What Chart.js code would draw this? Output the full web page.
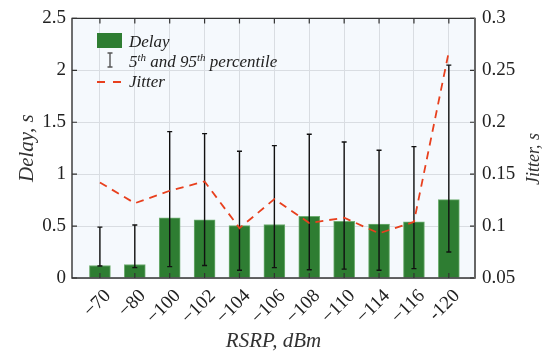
<!DOCTYPE html>
<html>
<head>
<meta charset="utf-8">
<script src="https://cdn.jsdelivr.net/npm/chart.js@4"></script>
<style>
  html, body { margin: 0; padding: 0; background: #fff; }
  #wrap { width: 546px; height: 354px; }
</style>
</head>
<body>
<div id="wrap"><canvas id="delayChart"></canvas></div>
<script>
// RSRP bins (dBm)
const rsrp = ['\u221270', '\u221280', '\u2212100', '\u2212102', '\u2212104', '\u2212106',
              '\u2212108', '\u2212110', '\u2212114', '\u2212116', '-120'];
// mean delay, s
const delay = [0.12, 0.13, 0.58, 0.56, 0.505, 0.515, 0.595, 0.545, 0.52, 0.54, 0.755];
// 5th / 95th percentile of delay, s
const delayP5 = [0.115, 0.10, 0.11, 0.12, 0.075, 0.10, 0.08, 0.085, 0.075, 0.09, 0.25];
const delayP95 = [0.49, 0.51, 1.41, 1.39, 1.22, 1.275, 1.385, 1.31, 1.23, 1.265, 2.05];
// jitter, s
const jitter = [0.142, 0.122, 0.134, 0.143, 0.098, 0.126, 0.103, 0.108, 0.093, 0.104, 0.268];

const delayTicks = [0, 0.5, 1, 1.5, 2, 2.5];
const jitterTicks = [0.05, 0.1, 0.15, 0.2, 0.25, 0.3];

const SERIF = '"Liberation Serif", "Times New Roman", serif';
const GREEN = '#2e7d32';
const RED = '#e8401e';

const setTicks = (vals) => (axis) => { axis.ticks = vals.map(v => ({ value: v })); };

// background, error bars, frame with inward ticks, right title and legend
const decor = {
  id: 'decor',
  beforeDraw(chart) {
    const { ctx, chartArea: a } = chart;
    ctx.save();
    ctx.fillStyle = '#f5f9fd';
    ctx.fillRect(a.left, a.top, a.right - a.left, a.bottom - a.top);
    ctx.restore();
  },
  afterDatasetDraw(chart, args) {
    if (args.meta.type !== 'bar') return;
    const { ctx, scales: { x, y } } = chart;
    ctx.save();
    ctx.strokeStyle = '#111';
    ctx.lineWidth = 1.4;
    delay.forEach((_, i) => {
      const px = x.getPixelForValue(i);
      const lo = y.getPixelForValue(delayP5[i]);
      const hi = y.getPixelForValue(delayP95[i]);
      ctx.beginPath();
      ctx.moveTo(px, lo); ctx.lineTo(px, hi);
      ctx.moveTo(px - 2.5, lo); ctx.lineTo(px + 2.5, lo);
      ctx.moveTo(px - 2.5, hi); ctx.lineTo(px + 2.5, hi);
      ctx.stroke();
    });
    ctx.restore();
  },
  afterDraw(chart) {
    const { ctx, chartArea: a, scales: { x, y, y1 } } = chart;
    ctx.save();

    // inward tick marks
    ctx.strokeStyle = '#333';
    ctx.lineWidth = 1.2;
    ctx.beginPath();
    x.ticks.forEach(t => {
      const px = x.getPixelForValue(t.value);
      ctx.moveTo(px, a.top); ctx.lineTo(px, a.top + 5);
      ctx.moveTo(px, a.bottom); ctx.lineTo(px, a.bottom - 5);
    });
    y.ticks.forEach(t => {
      const py = y.getPixelForValue(t.value);
      ctx.moveTo(a.left, py); ctx.lineTo(a.left + 5, py);
    });
    y1.ticks.forEach(t => {
      const py = y1.getPixelForValue(t.value);
      ctx.moveTo(a.right, py); ctx.lineTo(a.right - 5, py);
    });
    ctx.stroke();

    // frame
    ctx.strokeStyle = '#333';
    ctx.lineWidth = 1.4;
    ctx.beginPath();
    ctx.moveTo(a.right, a.top); ctx.lineTo(a.left, a.top);
    ctx.lineTo(a.left, a.bottom); ctx.lineTo(a.right, a.bottom);
    ctx.stroke();
    ctx.strokeStyle = '#666';
    ctx.lineWidth = 2;
    ctx.beginPath();
    ctx.moveTo(a.right, a.top - 0.7); ctx.lineTo(a.right, a.bottom + 0.7);
    ctx.stroke();

    // right axis title, reading bottom to top
    ctx.fillStyle = '#333';
    ctx.font = 'italic 18px ' + SERIF;
    ctx.textAlign = 'center';
    ctx.textBaseline = 'middle';
    ctx.translate(534, 159);
    ctx.rotate(-Math.PI / 2);
    ctx.fillText('Jitter, s', 0, 0);
    ctx.setTransform(1, 0, 0, 1, 0, 0);

    // legend
    const tx = 129;
    ctx.textAlign = 'left';
    ctx.textBaseline = 'alphabetic';
    ctx.fillStyle = GREEN;
    ctx.fillRect(97, 33, 25, 15);
    ctx.fillStyle = '#222';
    ctx.font = 'italic 17px ' + SERIF;
    ctx.fillText('Delay', tx, 47);

    ctx.strokeStyle = '#555';
    ctx.lineWidth = 1.4;
    ctx.beginPath();
    ctx.moveTo(110, 53); ctx.lineTo(110, 67);
    ctx.moveTo(107.5, 53); ctx.lineTo(112.5, 53);
    ctx.moveTo(107.5, 67); ctx.lineTo(112.5, 67);
    ctx.stroke();

    const parts = [['5', false], ['th', true], [' and 95', false], ['th', true], [' percentile', false]];
    let cx = tx;
    parts.forEach(([s, sup]) => {
      ctx.font = (sup ? 'italic 11px ' : 'italic 17px ') + SERIF;
      ctx.fillText(s, cx, sup ? 61 : 67);
      cx += ctx.measureText(s).width;
    });

    ctx.strokeStyle = RED;
    ctx.lineWidth = 1.8;
    ctx.setLineDash([8, 8]);
    ctx.beginPath();
    ctx.moveTo(97, 82); ctx.lineTo(123, 82);
    ctx.stroke();
    ctx.setLineDash([]);
    ctx.font = 'italic 17px ' + SERIF;
    ctx.fillText('Jitter', tx, 87);

    ctx.restore();
  }
};

const ctx = document.getElementById('delayChart').getContext('2d');
new Chart(ctx, {
  data: {
    datasets: [
      {
        type: 'bar',
        label: 'Delay',
        data: delay.map((v, i) => ({ x: i, y: v })),
        backgroundColor: GREEN,
        borderColor: '#6fae72',
        borderWidth: { left: 1, right: 1, top: 1, bottom: 0 },
        borderSkipped: false,
        barThickness: 21,
        yAxisID: 'y',
        order: 2
      },
      {
        type: 'line',
        label: 'Jitter',
        data: jitter.map((v, i) => ({ x: i, y: v })),
        borderColor: RED,
        borderWidth: 1.8,
        borderDash: [8, 6],
        pointRadius: 0,
        fill: false,
        tension: 0,
        yAxisID: 'y1',
        order: 1
      }
    ]
  },
  options: {
    responsive: true,
    maintainAspectRatio: false,
    animation: false,
    layout: { padding: { top: 16, left: 0, right: 0, bottom: 0 } },
    plugins: {
      legend: { display: false },
      tooltip: { enabled: false }
    },
    scales: {
      x: {
        type: 'linear',
        min: -0.8,
        max: 10.75,
        offset: false,
        afterBuildTicks: setTicks(rsrp.map((_, i) => i)),
        afterFit: (s) => { s.height = 76; },
        grid: { offset: false, color: '#d9dde2', lineWidth: 1, drawTicks: false },
        border: { display: false },
        ticks: {
          autoSkip: false,
          minRotation: 45,
          maxRotation: 45,
          padding: 7,
          labelOffset: 8,
          color: '#222',
          font: { family: SERIF, size: 19 },
          callback: (v) => rsrp[v]
        },
        title: {
          display: true,
          text: 'RSRP, dBm',
          color: '#333',
          font: { family: SERIF, size: 21, style: 'italic' },
          padding: { top: 0, bottom: 0 }
        }
      },
      y: {
        position: 'left',
        min: 0,
        max: 2.5,
        afterBuildTicks: setTicks(delayTicks),
        afterFit: (s) => { s.width = 72; },
        grid: { color: '#d9dde2', lineWidth: 1, drawTicks: false },
        border: { display: false },
        ticks: {
          padding: 6,
          color: '#222',
          font: { family: SERIF, size: 19 },
          callback: (v) => String(v)
        },
        title: {
          display: true,
          text: 'Delay, s',
          color: '#333',
          font: { family: SERIF, size: 21, style: 'italic' },
          padding: { top: 15, bottom: 0 }
        }
      },
      y1: {
        position: 'right',
        min: 0.05,
        max: 0.3,
        afterBuildTicks: setTicks(jitterTicks),
        afterFit: (s) => { s.width = 71; },
        grid: { display: false, drawTicks: false },
        border: { display: false },
        ticks: {
          padding: 7,
          color: '#222',
          font: { family: SERIF, size: 19 },
          callback: (v) => String(v)
        }
      }
    }
  },
  plugins: [decor]
});
</script>
</body>
</html>
